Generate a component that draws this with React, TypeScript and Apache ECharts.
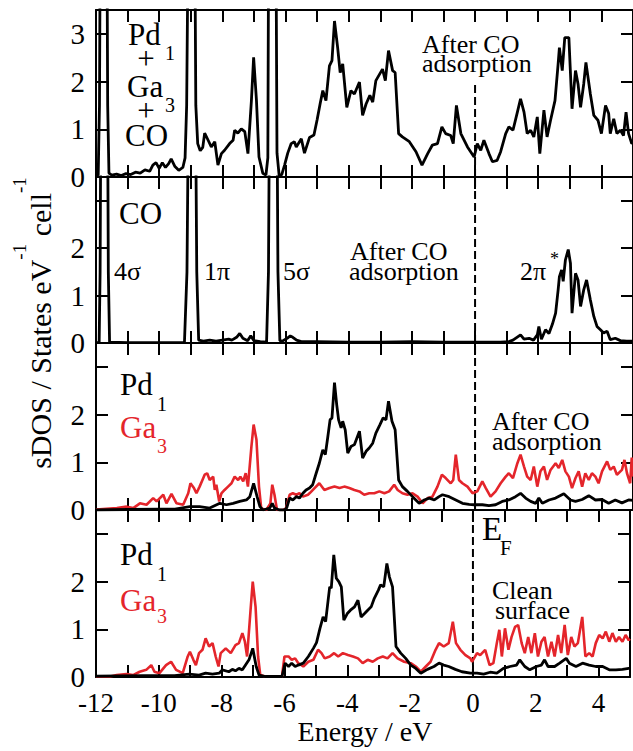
import React, { useEffect, useRef } from "react";
import * as echarts from "echarts";

/* sDOS of Pd1Ga3 with CO: four stacked panels sharing the energy axis. */

const INK = "#000000";
const GA_RED = "#e4252b";
const SERIF = "Liberation Serif";

// axis ranges and tick labels
const energyMin = -12;
const energyMax = 5;
const dosMax = 3.5;
const energyTickLabels = [-12, -10, -8, -6, -4, -2, 0, 2, 4];
const dosTickLabelsTop = [0, 1, 2, 3];
const dosTickLabelsLower = [0, 1, 2];

// Fermi level markers (energy, sDOS)
const fermiPanel1: [number, number][] = [[0, 0], [0, 2.0]];
const fermiOther: [number, number][] = [[0, 0], [0, 3.5]];

// panel 1: Pd1 + Ga3 + CO, after CO adsorption
const sumAfterCO: [number, number][] = [
  [-12, 0.02], [-11.93, 0.05], [-11.89, 1.5], [-11.86, 6], [-11.66, 6], [-11.63, 1.5], [-11.59, 0.08],
  [-11.5, 0.04], [-11.35, 0.06], [-11.2, 0.03], [-11.05, 0.07], [-10.9, 0.05], [-10.75, 0.1], [-10.6, 0.08],
  [-10.45, 0.15], [-10.3, 0.12], [-10.2, 0.25], [-10.1, 0.3], [-10.0, 0.18], [-9.9, 0.3], [-9.8, 0.2],
  [-9.7, 0.28], [-9.62, 0.38], [-9.5, 0.22], [-9.38, 0.14], [-9.25, 0.2], [-9.18, 0.4],
  [-9.13, 1.5], [-9.07, 6], [-8.88, 6], [-8.84, 1.5], [-8.78, 0.7],
  [-8.7, 0.55], [-8.62, 0.62], [-8.56, 0.92], [-8.45, 0.77], [-8.35, 0.63], [-8.24, 0.74], [-8.14, 0.25],
  [-8.03, 0.49], [-7.93, 0.56], [-7.77, 0.7], [-7.66, 0.77], [-7.61, 0.98], [-7.51, 0.92], [-7.4, 1.01],
  [-7.29, 0.95], [-7.19, 0.49], [-7.08, 1.6], [-7.01, 2.51], [-6.92, 1.6], [-6.84, 0.42], [-6.72, 0.08],
  [-6.62, 0.04], [-6.56, 0.4], [-6.53, 6], [-6.31, 6], [-6.27, 0.5], [-6.2, 0.02], [-6.12, 0.05],
  [-6.03, 0.25], [-5.93, 0.5], [-5.82, 0.7], [-5.72, 0.74], [-5.66, 0.63], [-5.5, 0.8], [-5.4, 0.5],
  [-5.24, 0.83], [-5.1, 0.88], [-5.0, 1.2], [-4.9, 1.55],
  [-4.82, 1.81], [-4.72, 1.6], [-4.61, 2.33], [-4.53, 2.44], [-4.45, 3.27], [-4.35, 2.71], [-4.27, 2.19],
  [-4.19, 2.37], [-4.06, 1.46], [-3.93, 1.81], [-3.82, 1.74], [-3.66, 1.99], [-3.56, 1.29], [-3.45, 1.53],
  [-3.33, 1.71], [-3.24, 1.57], [-3.14, 2.02], [-2.93, 2.26], [-2.84, 2.02], [-2.74, 2.65], [-2.61, 2.23],
  [-2.53, 2.19], [-2.42, 0.91], [-2.3, 0.84], [-2.08, 0.74], [-1.87, 0.53], [-1.68, 0.25], [-1.5, 0.49],
  [-1.35, 0.67], [-1.19, 0.7], [-1.05, 1.05], [-0.93, 0.91], [-0.77, 0.87], [-0.69, 0.7], [-0.59, 1.5],
  [-0.45, 0.91], [-0.24, 0.63], [-0.03, 0.42], [0.07, 0.7], [0.18, 0.56], [0.28, 0.77], [0.44, 0.49],
  [0.55, 0.32], [0.7, 0.35], [0.81, 0.53], [0.97, 0.91], [1.07, 1.05], [1.2, 0.98], [1.34, 1.36],
  [1.44, 1.64], [1.55, 1.36], [1.65, 0.91], [1.76, 0.98], [1.86, 0.84], [1.97, 1.26], [2.05, 0.49],
  [2.18, 1.4], [2.28, 0.84], [2.39, 1.19], [2.53, 1.6], [2.63, 2.37], [2.67, 2.71], [2.76, 2.23],
  [2.84, 2.92], [2.97, 2.92], [3.07, 1.43], [3.18, 2.23], [3.26, 1.95], [3.34, 1.46], [3.44, 1.95],
  [3.51, 2.4], [3.65, 1.74], [3.76, 1.29], [3.89, 1.19], [4.0, 0.91], [4.13, 1.5], [4.23, 1.33],
  [4.28, 0.91], [4.39, 1.22], [4.49, 0.91], [4.6, 0.98], [4.7, 0.87], [4.78, 1.36], [4.86, 0.91],
  [4.96, 0.7], [5, 0.72],
];

// panel 2: CO, after CO adsorption
const coAfterCO: [number, number][] = [
  [-12, 0.0], [-11.9, 0.02], [-11.87, 1.5], [-11.84, 6], [-11.64, 6], [-11.61, 1.5], [-11.57, 0.02],
  [-11, 0.01], [-10, 0.01], [-9.2, 0.01], [-9.12, 1.5], [-9.06, 6], [-8.86, 6], [-8.81, 1.5], [-8.75, 0.06],
  [-8.6, 0.04], [-8.4, 0.06], [-8.2, 0.04], [-8.0, 0.06], [-7.8, 0.08], [-7.7, 0.06], [-7.55, 0.12],
  [-7.45, 0.2], [-7.35, 0.1], [-7.2, 0.05], [-7.1, 0.15], [-7.0, 0.05], [-6.8, 0.03], [-6.6, 0.02],
  [-6.54, 1.5], [-6.5, 6], [-6.28, 6], [-6.24, 1.5], [-6.18, 0.05], [-6.1, 0.04], [-5.95, 0.1],
  [-5.85, 0.15], [-5.77, 0.12], [-5.65, 0.06], [-5.5, 0.03], [-5, 0.03], [-4, 0.02], [-3, 0.02],
  [-2, 0.03], [-1, 0.02], [0, 0.02], [0.8, 0.02], [1.07, 0.03], [1.2, 0.06], [1.44, 0.17], [1.55, 0.08],
  [1.71, 0.1], [1.85, 0.06], [1.97, 0.17], [2.02, 0.35], [2.1, 0.08], [2.23, 0.28], [2.34, 0.2],
  [2.45, 0.4], [2.55, 0.63], [2.63, 1.12], [2.67, 1.4], [2.74, 1.54], [2.79, 1.3], [2.86, 1.75],
  [2.95, 1.97], [3.02, 1.68], [3.07, 0.63], [3.18, 1.47], [3.26, 1.33], [3.34, 0.77], [3.44, 1.12],
  [3.53, 1.33], [3.65, 0.91], [3.76, 0.56], [3.86, 0.35], [3.97, 0.28], [4.07, 0.21], [4.18, 0.25],
  [4.28, 0.07], [4.44, 0.1], [4.6, 0.05], [4.8, 0.04], [5, 0.04],
];

// panel 3: Pd1 and Ga3, after CO adsorption
const pd1AfterCO: [number, number][] = [
  [-12, 0.0], [-11, 0.01], [-10, 0.02], [-9.5, 0.02], [-9.03, 0.07], [-8.72, 0.07], [-8.4, 0.04],
  [-8.08, 0.14], [-7.87, 0.11], [-7.66, 0.14], [-7.45, 0.18], [-7.24, 0.21], [-7.13, 0.28], [-7.01, 0.56],
  [-6.9, 0.28], [-6.81, 0.07], [-6.71, 0.0], [-6.5, 0.04], [-6.42, 0.14], [-6.35, 0.04], [-6.19, 0.0],
  [-6.03, 0.0], [-5.96, 0.05], [-5.87, 0.25], [-5.77, 0.21], [-5.66, 0.28], [-5.56, 0.25], [-5.45, 0.35],
  [-5.35, 0.42], [-5.24, 0.46], [-5.14, 0.53], [-5.03, 0.77], [-4.93, 0.98], [-4.82, 1.26], [-4.74, 1.16],
  [-4.66, 1.54], [-4.59, 1.89], [-4.53, 1.93], [-4.45, 2.67], [-4.38, 2.21], [-4.32, 1.89], [-4.24, 1.72],
  [-4.19, 1.86], [-4.11, 1.68], [-4.03, 1.19], [-3.93, 1.33], [-3.82, 1.37], [-3.66, 1.65], [-3.56, 1.09],
  [-3.45, 1.23], [-3.35, 1.3], [-3.24, 1.4], [-3.14, 1.61], [-3.01, 1.79], [-2.91, 1.93], [-2.82, 1.89],
  [-2.74, 2.28], [-2.63, 1.86], [-2.53, 1.68], [-2.42, 0.63], [-2.3, 0.49], [-2.14, 0.39], [-1.98, 0.28],
  [-1.77, 0.14], [-1.61, 0.21], [-1.45, 0.25], [-1.29, 0.21], [-1.14, 0.28], [-1.03, 0.32], [-0.82, 0.28],
  [-0.61, 0.21], [-0.4, 0.14], [-0.19, 0.12], [-0.03, 0.11], [0.23, 0.11], [0.44, 0.09], [0.65, 0.11],
  [0.86, 0.18], [1.07, 0.21], [1.28, 0.28], [1.44, 0.35], [1.6, 0.25], [1.76, 0.18], [1.92, 0.14],
  [2.02, 0.25], [2.13, 0.14], [2.34, 0.21], [2.55, 0.25], [2.81, 0.34], [3.02, 0.21], [3.18, 0.18],
  [3.39, 0.22], [3.6, 0.3], [3.81, 0.21], [4.02, 0.22], [4.23, 0.14], [4.44, 0.21], [4.65, 0.15],
  [4.86, 0.21], [5, 0.2],
];

const ga3AfterCO: [number, number][] = [
  [-12, 0.01], [-11.34, 0.04], [-11.03, 0.07], [-10.82, 0.04], [-10.61, 0.14], [-10.4, 0.11], [-10.19, 0.25],
  [-10.08, 0.18], [-9.87, 0.32], [-9.77, 0.14], [-9.61, 0.34], [-9.45, 0.14], [-9.24, 0.11], [-9.08, 0.35],
  [-9.01, 0.56], [-8.9, 0.46], [-8.82, 0.35], [-8.72, 0.49], [-8.63, 0.63], [-8.56, 0.74], [-8.48, 0.77],
  [-8.4, 0.63], [-8.29, 0.7], [-8.24, 0.42], [-8.19, 0.53], [-8.1, 0.18], [-8.03, 0.35], [-7.93, 0.42],
  [-7.82, 0.49], [-7.71, 0.56], [-7.61, 0.7], [-7.5, 0.63], [-7.43, 0.7], [-7.34, 0.6], [-7.26, 0.77],
  [-7.19, 0.49], [-7.08, 1.33], [-7.01, 1.79], [-6.92, 1.47], [-6.84, 0.49], [-6.77, 0.04], [-6.61, 0.0],
  [-6.48, 0.14], [-6.42, 0.53], [-6.35, 0.32], [-6.27, 0.0], [-6.08, 0.0], [-5.98, 0.04], [-5.87, 0.32],
  [-5.77, 0.35], [-5.66, 0.32], [-5.56, 0.35], [-5.45, 0.28], [-5.29, 0.32], [-5.24, 0.35], [-5.08, 0.46],
  [-4.93, 0.56], [-4.77, 0.42], [-4.61, 0.46], [-4.45, 0.49], [-4.29, 0.46], [-4.14, 0.49], [-3.98, 0.46],
  [-3.82, 0.42], [-3.66, 0.39], [-3.51, 0.32], [-3.35, 0.35], [-3.19, 0.35], [-3.03, 0.39], [-2.87, 0.35],
  [-2.72, 0.39], [-2.56, 0.53], [-2.45, 0.42], [-2.3, 0.35], [-2.14, 0.32], [-1.98, 0.35], [-1.82, 0.28],
  [-1.66, 0.14], [-1.5, 0.25], [-1.35, 0.28], [-1.19, 0.49], [-1.05, 0.74], [-0.93, 0.67], [-0.77, 0.56],
  [-0.69, 0.63], [-0.61, 1.16], [-0.51, 0.63], [-0.4, 0.56], [-0.24, 0.49], [-0.08, 0.35], [0.07, 0.39],
  [0.23, 0.6], [0.34, 0.46], [0.49, 0.28], [0.65, 0.39], [0.81, 0.56], [0.97, 0.7], [1.07, 0.77],
  [1.2, 0.67], [1.34, 0.98], [1.44, 1.16], [1.55, 0.91], [1.65, 0.7], [1.76, 0.63], [1.86, 0.91],
  [1.97, 0.49], [2.07, 0.81], [2.18, 0.91], [2.28, 0.63], [2.39, 0.84], [2.55, 0.98], [2.65, 0.88],
  [2.76, 1.05], [2.86, 0.81], [2.97, 0.7], [3.07, 0.46], [3.18, 0.67], [3.28, 0.81], [3.39, 0.49],
  [3.49, 0.77], [3.6, 0.63], [3.7, 0.77], [3.81, 0.7], [3.91, 0.56], [4.02, 0.81], [4.18, 1.02],
  [4.28, 0.84], [4.39, 0.91], [4.49, 0.74], [4.65, 0.84], [4.73, 1.05], [4.81, 0.77], [4.91, 0.56],
  [4.96, 1.1], [5, 0.7],
];

// panel 4: Pd1 and Ga3, clean surface
const pd1Clean: [number, number][] = [
  [-12, 0.02], [-10.5, 0.03], [-9.5, 0.03], [-9.03, 0.06], [-8.72, 0.04], [-8.51, 0.08], [-8.29, 0.06],
  [-8.08, 0.08], [-7.98, 0.15], [-7.77, 0.11], [-7.66, 0.16], [-7.56, 0.13], [-7.45, 0.18], [-7.34, 0.15],
  [-7.24, 0.25], [-7.13, 0.36], [-7.01, 0.6], [-6.9, 0.22], [-6.81, 0.04], [-6.61, 0.01], [-6.08, 0.01],
  [-5.98, 0.29], [-5.87, 0.22], [-5.77, 0.29], [-5.66, 0.22], [-5.56, 0.25], [-5.4, 0.29], [-5.24, 0.43],
  [-5.08, 0.6], [-4.98, 0.72], [-4.87, 1.02], [-4.77, 1.26], [-4.69, 1.16], [-4.61, 1.61], [-4.56, 1.89],
  [-4.51, 1.86], [-4.43, 2.56], [-4.35, 2.07], [-4.27, 2.0], [-4.19, 1.89], [-4.11, 1.19], [-4.0, 1.33],
  [-3.9, 1.4], [-3.77, 1.47], [-3.66, 1.61], [-3.56, 1.26], [-3.45, 1.33], [-3.35, 1.4], [-3.24, 1.47],
  [-3.14, 1.65], [-3.01, 1.82], [-2.94, 1.93], [-2.84, 1.89], [-2.74, 2.38], [-2.66, 2.1], [-2.56, 1.89],
  [-2.45, 0.64], [-2.3, 0.5], [-2.14, 0.39], [-1.98, 0.25], [-1.82, 0.18], [-1.66, 0.08], [-1.45, 0.16],
  [-1.24, 0.22], [-1.08, 0.29], [-0.93, 0.25], [-0.77, 0.22], [-0.56, 0.16], [-0.35, 0.11], [-0.08, 0.08],
  [0.13, 0.08], [0.34, 0.06], [0.55, 0.1], [0.76, 0.08], [0.97, 0.18], [1.18, 0.22], [1.39, 0.25],
  [1.49, 0.36], [1.65, 0.22], [1.81, 0.15], [2.02, 0.22], [2.18, 0.25], [2.28, 0.36], [2.39, 0.22],
  [2.6, 0.22], [2.76, 0.29], [2.97, 0.39], [3.07, 0.29], [3.28, 0.22], [3.49, 0.29], [3.7, 0.25],
  [3.91, 0.22], [4.13, 0.22], [4.34, 0.15], [4.55, 0.15], [4.76, 0.16], [4.96, 0.18], [5, 0.18],
];

const ga3Clean: [number, number][] = [
  [-12, 0.01], [-11.55, 0.01], [-11.34, 0.04], [-11.03, 0.06], [-10.82, 0.04], [-10.61, 0.11], [-10.4, 0.15],
  [-10.24, 0.25], [-10.14, 0.11], [-9.98, 0.08], [-9.77, 0.25], [-9.61, 0.32], [-9.45, 0.15], [-9.24, 0.08],
  [-9.08, 0.43], [-9.01, 0.53], [-8.9, 0.36], [-8.82, 0.25], [-8.72, 0.5], [-8.61, 0.57], [-8.51, 0.81],
  [-8.4, 0.64], [-8.29, 0.71], [-8.19, 0.43], [-8.1, 0.22], [-8.03, 0.5], [-7.87, 0.6], [-7.71, 0.5],
  [-7.56, 0.67], [-7.45, 0.71], [-7.34, 0.92], [-7.26, 0.74], [-7.19, 0.43], [-7.08, 1.4], [-7.01, 2.0],
  [-6.92, 1.47], [-6.84, 0.43], [-6.77, 0.04], [-6.61, 0.01], [-6.08, 0.01], [-6.0, 0.43], [-5.87, 0.43],
  [-5.77, 0.36], [-5.66, 0.39], [-5.56, 0.29], [-5.4, 0.22], [-5.24, 0.32], [-5.08, 0.36], [-4.93, 0.57],
  [-4.82, 0.5], [-4.72, 0.39], [-4.56, 0.43], [-4.42, 0.5], [-4.29, 0.43], [-4.14, 0.5], [-3.98, 0.46],
  [-3.82, 0.43], [-3.66, 0.39], [-3.51, 0.29], [-3.35, 0.36], [-3.19, 0.32], [-3.03, 0.39], [-2.87, 0.43],
  [-2.72, 0.39], [-2.56, 0.5], [-2.4, 0.39], [-2.19, 0.32], [-1.98, 0.29], [-1.82, 0.22], [-1.66, 0.11],
  [-1.5, 0.22], [-1.35, 0.32], [-1.19, 0.57], [-1.08, 0.71], [-0.93, 0.64], [-0.77, 0.71], [-0.64, 1.16],
  [-0.54, 0.71], [-0.4, 0.57], [-0.24, 0.46], [-0.08, 0.39], [-0.03, 0.32], [0.13, 0.5], [0.23, 0.46],
  [0.39, 0.57], [0.53, 0.25], [0.65, 0.29], [0.76, 0.71], [0.84, 0.99], [0.92, 0.43], [1.02, 1.02],
  [1.13, 0.57], [1.23, 0.84], [1.34, 1.05], [1.44, 1.09], [1.55, 0.71], [1.65, 0.5], [1.76, 0.84],
  [1.86, 0.5], [1.97, 0.92], [2.07, 0.43], [2.18, 0.74], [2.28, 0.84], [2.39, 0.43], [2.5, 0.74],
  [2.6, 0.43], [2.71, 0.88], [2.81, 0.5], [2.92, 1.09], [3.02, 0.46], [3.13, 0.84], [3.23, 0.64],
  [3.34, 0.71], [3.48, 1.26], [3.58, 0.43], [3.7, 0.5], [3.81, 0.43], [3.91, 0.71], [4.02, 0.88],
  [4.13, 0.81], [4.23, 0.95], [4.34, 0.74], [4.44, 0.92], [4.55, 0.74], [4.65, 0.84], [4.76, 0.74],
  [4.86, 0.88], [4.96, 0.77], [5, 0.8],
];

const PANEL_LEFT = 96;
const PANEL_WIDTH = 538;
const PANEL_TOPS = [10, 177, 343, 510];
const PANEL_HEIGHTS = [167, 166, 167, 167];

function label(text: string, x: number, y: number, size: number, color = INK, align = "left", rotation = 0) {
  return {
    type: "text",
    x,
    y,
    rotation,
    style: {
      text,
      fill: color,
      fontSize: size,
      fontFamily: SERIF,
      align,
      verticalAlign: "middle",
    },
  };
}

function textWidth(text: string, size: number): number {
  const ctx = document.createElement("canvas").getContext("2d");
  if (!ctx) return text.length * size * 0.45;
  ctx.font = `${size}px '${SERIF}'`;
  return ctx.measureText(text).width;
}

function yTitle(): any[] {
  // rotated title read from bottom to top, centred on the panel stack
  const parts = [
    { t: "sDOS / States eV", size: 30, sup: false },
    { t: "-1", size: 19, sup: true },
    { t: " cell", size: 30, sup: false },
    { t: "-1", size: 19, sup: true },
  ];
  const widths = parts.map((p) => textWidth(p.t, p.size));
  const total = widths.reduce((a, b) => a + b, 0);
  let y = 323 + total / 2;
  const out: any[] = [];
  parts.forEach((p, i) => {
    out.push(label(p.t, p.sup ? 19 : 40, y, p.size, INK, "left", Math.PI / 2));
    y -= widths[i];
  });
  return out;
}

function buildOption() {
  const grid = PANEL_TOPS.map((top, i) => ({
    left: PANEL_LEFT,
    top,
    width: PANEL_WIDTH,
    height: PANEL_HEIGHTS[i],
    show: false,
  }));

  const xAxis: any[] = [];
  const yAxis: any[] = [];
  for (let i = 0; i < 4; i++) {
    for (const pos of ["bottom", "top"]) {
      xAxis.push({
        type: "value",
        gridIndex: i,
        min: energyMin,
        max: energyMax,
        interval: 1,
        position: pos,
        axisLine: { show: true, onZero: false, lineStyle: { color: INK, width: 2 } },
        axisTick: { show: true, inside: true, length: 12, lineStyle: { color: INK, width: 2 } },
        splitLine: { show: false },
        axisLabel: {
          show: i === 3 && pos === "bottom",
          color: INK,
          fontSize: 27,
          fontFamily: SERIF,
          margin: 12,
          formatter: (v: number) => (energyTickLabels.includes(v) ? String(v) : ""),
        },
      });
    }
    for (const pos of ["left", "right"]) {
      const shown = i === 0 ? dosTickLabelsTop : dosTickLabelsLower;
      yAxis.push({
        type: "value",
        gridIndex: i,
        min: 0,
        max: dosMax,
        interval: 1,
        position: pos,
        axisLine: { show: true, onZero: false, lineStyle: { color: INK, width: 2 } },
        axisTick: { show: true, inside: true, length: 12, lineStyle: { color: INK, width: 2 } },
        splitLine: { show: false },
        axisLabel: {
          show: pos === "left",
          color: INK,
          fontSize: 29,
          fontFamily: SERIF,
          margin: 11,
          formatter: (v: number) => (shown.includes(v) ? String(v) : ""),
        },
      });
    }
  }

  const curve = (data: [number, number][], panel: number, color: string, width: number) => ({
    type: "line",
    xAxisIndex: panel * 2,
    yAxisIndex: panel * 2,
    data,
    showSymbol: false,
    lineStyle: { color, width },
  });
  const fermi = (data: [number, number][], panel: number) => ({
    type: "line",
    xAxisIndex: panel * 2,
    yAxisIndex: panel * 2,
    data,
    showSymbol: false,
    lineStyle: { color: INK, width: 2, type: "dashed", dashOffset: 0 },
  });

  const series = [
    fermi(fermiPanel1, 0),
    curve(sumAfterCO, 0, INK, 2.8),
    fermi(fermiOther, 1),
    curve(coAfterCO, 1, INK, 2.8),
    fermi(fermiOther, 2),
    curve(ga3AfterCO, 2, GA_RED, 2.6),
    curve(pd1AfterCO, 2, INK, 2.8),
    fermi(fermiOther, 3),
    curve(ga3Clean, 3, GA_RED, 2.6),
    curve(pd1Clean, 3, INK, 2.8),
  ];

  const graphic: any[] = [
    label("Pd", 128, 34, 31),
    label("1", 165, 53, 20),
    label("+", 146, 58, 31, INK, "center"),
    label("Ga", 127, 86, 31),
    label("3", 165, 105, 20),
    label("+", 146, 110, 31, INK, "center"),
    label("CO", 125, 135, 31),
    label("After CO", 422, 44, 26),
    label("adsorption", 422, 63, 26),
    label("CO", 119, 213, 31),
    label("4σ", 114, 271, 26),
    label("1π", 204, 271, 26),
    label("5σ", 283, 271, 26),
    label("After CO", 350, 251, 26),
    label("adsorption", 349, 271, 26),
    label("2π", 520, 271, 26),
    label("*", 550, 259, 18),
    label("Pd", 120, 384, 31),
    label("1", 157, 404, 20),
    label("Ga", 120, 427, 31, GA_RED),
    label("3", 157, 446, 20, GA_RED),
    label("After CO", 492, 421, 26),
    label("adsorption", 492, 441, 26),
    label("Pd", 120, 554, 31),
    label("1", 157, 574, 20),
    label("Ga", 120, 600, 31, GA_RED),
    label("3", 157, 616, 20, GA_RED),
    label("E", 482, 529, 33),
    label("F", 500, 548, 21),
    label("Clean", 492, 590, 26),
    label("surface", 495, 610, 26),
    label("Energy / eV", 365, 731, 28, INK, "center"),
    ...yTitle(),
  ];

  return { animation: false, backgroundColor: "#ffffff", grid, xAxis, yAxis, series, graphic };
}

export default function App() {
  const holder = useRef<HTMLDivElement>(null);

  useEffect(() => {
    if (!holder.current) return;
    const chart = echarts.init(holder.current, undefined, { renderer: "svg" });
    chart.setOption(buildOption() as any);
    return () => chart.dispose();
  }, []);

  return (
    <div
      ref={holder}
      style={{ position: "fixed", left: 0, top: 0, width: 633, height: 751, background: "#fff" }}
    />
  );
}
